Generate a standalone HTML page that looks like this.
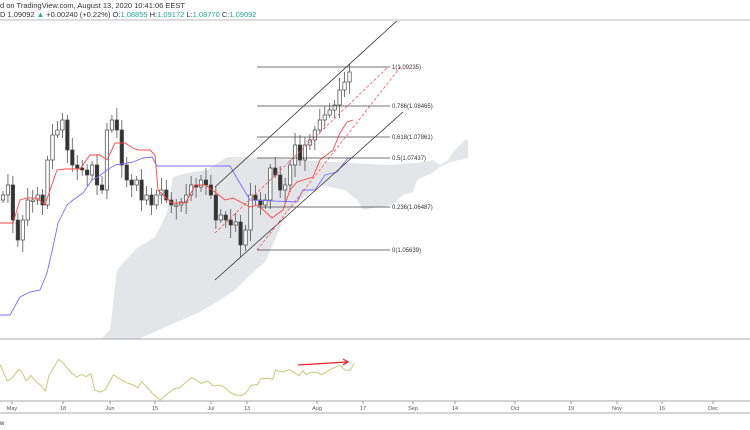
<!DOCTYPE html>
<html><head><meta charset="utf-8"><style>
html,body{margin:0;padding:0;background:#fff;}
svg{display:block;font-family:"Liberation Sans",sans-serif;}
</style></head><body>
<svg id="s" width="750" height="430" viewBox="0 0 750 430" xmlns="http://www.w3.org/2000/svg">
<defs><clipPath id="c"><rect x="0" y="21" width="750" height="318"/></clipPath></defs>
<text x="0" y="8" font-size="7.5" fill="#333">d on TradingView.com, August 13, 2020 10:41:06 EEST</text>
<text x="0" y="17" font-size="7.5" fill="#333">D 1.09092 <tspan fill="#26a69a">▲</tspan> +0.00240 (+0.22%) O:<tspan fill="#26a69a">1.08855</tspan> H:<tspan fill="#26a69a">1.09172</tspan> L:<tspan fill="#26a69a">1.08770</tspan> C:<tspan fill="#26a69a">1.09092</tspan></text>
<line x1="0" y1="20" x2="750" y2="20" stroke="#bbb" stroke-width="1"/>
<g clip-path="url(#c)">
<polygon fill="#e4e5e8" points="95,345 110,330 117,270 137,248 155,237 167,213 173,177 187,173 207,170 227,157 240,157 300,160 350,163 387,165 417,163 433,160 440,165 448,160 453,152 465,140 468,140 468,158 450,162 438,168 432,173 417,180 413,192 403,195 392,205 373,208 363,210 357,200 345,190 320,185 300,200 285,215 275,240 265,262 250,275 235,290 220,300 200,312 170,325 125,345"/>
<g id="cd"></g>
<polyline fill="none" stroke="#ff4444" stroke-width="0.9" points="0,223 13,223 20,200 27,198 37,198 45,205 50,190 57,170 65,169 80,169 90,155 100,155 107,160 115,143 125,143 133,148 138,150 150,150 155,155 158,190 163,195 172,203 185,203 190,195 195,185 205,185 215,192 225,200 233,198 250,207 258,205 272,218 283,210 290,190 297,182 313,177 320,160 333,150 340,133 347,122 353,120"/>
<polyline fill="none" stroke="#7b6cff" stroke-width="0.9" points="0,315 10,315 20,297 30,292 40,290 47,273 53,247 58,223 67,205 73,200 83,193 92,180 98,177 107,170 115,165 133,162 143,158 152,157 157,166 230,166 238,180 250,200 297,202 303,190 315,190 325,175 337,172 348,158 353,158"/>
<line x1="215" y1="187" x2="400" y2="18" stroke="#333" stroke-width="0.8"/>
<line x1="215" y1="280" x2="403" y2="112" stroke="#333" stroke-width="0.8"/>
<line x1="257" y1="250" x2="402" y2="65" stroke="#ff5555" stroke-width="0.8" stroke-dasharray="3,2"/>
<line x1="215" y1="233" x2="387" y2="68" stroke="#ff5555" stroke-width="0.8" stroke-dasharray="3,2"/>
<g stroke="#444" stroke-width="0.8">
<line x1="257" y1="67" x2="390" y2="67"/><line x1="257" y1="106" x2="390" y2="106"/>
<line x1="257" y1="137" x2="390" y2="137"/><line x1="257" y1="158" x2="390" y2="158"/>
<line x1="257" y1="207" x2="390" y2="207"/><line x1="257" y1="250" x2="390" y2="250"/>
</g>
<g font-size="6" fill="#333">
<text x="392" y="69">1(1.09235)</text><text x="392" y="108">0.786(1.08465)</text>
<text x="392" y="139">0.618(1.07861)</text><text x="392" y="160">0.5(1.07437)</text>
<text x="392" y="209">0.236(1.06487)</text><text x="392" y="252">0(1.05639)</text>
</g>
</g>
<line x1="0" y1="339" x2="750" y2="339" stroke="#aaa" stroke-width="1"/>
<polyline id="osc" fill="none" stroke="#c8c87a" stroke-width="1"/>
<line x1="298" y1="365" x2="347" y2="362" stroke="#e22" stroke-width="1.2"/>
<polyline points="343,359 348,362 343,365" fill="none" stroke="#e22" stroke-width="1.2"/>
<line x1="0" y1="401" x2="750" y2="401" stroke="#aaa" stroke-width="1"/>
<g id="ax" font-size="5.5" fill="#555" text-anchor="middle"></g>
<line x1="0" y1="413" x2="750" y2="413" stroke="#aaa" stroke-width="1"/>
<text x="0" y="425" font-size="6" fill="#333">w</text>
</svg>
<script>
(function(){
var NS="http://www.w3.org/2000/svg";
var cl=[195,185,220,240,220,200,200,195,205,160,135,130,120,150,165,168,170,175,165,185,190,130,120,130,165,180,185,180,200,195,205,195,190,200,205,205,202,195,185,187,180,185,195,220,215,220,225,222,245,230,195,200,205,200,168,175,190,185,165,145,160,145,140,130,120,115,110,105,90,82,72];
var g=document.getElementById("cd");var prev=200;
for(var i=0;i<cl.length;i++){var x=3+i*4.95,o=prev,c=cl[i];var t0=Math.min(o,c),b0=Math.max(o,c);if(b0-t0<1.5)b0=t0+1.5;
var w=document.createElementNS(NS,"line");w.setAttribute("x1",x);w.setAttribute("x2",x);w.setAttribute("y1",t0-4-(i*7%9));w.setAttribute("y2",b0+3+(i*5%11));w.setAttribute("stroke","#555");w.setAttribute("stroke-width","0.8");g.appendChild(w);
var r=document.createElementNS(NS,"rect");r.setAttribute("x",x-1.7);r.setAttribute("y",t0);r.setAttribute("width",3.4);r.setAttribute("height",b0-t0);r.setAttribute("fill",c>o?"#333":"#fff");r.setAttribute("stroke","#444");r.setAttribute("stroke-width","0.7");g.appendChild(r);prev=c;}
var p=[[0,100],[15,148],[25,140],[38,115],[45,120],[55,147],[65,132],[75,150],[85,160],[95,177],[102,133],[112,110],[122,85],[130,92],[140,110],[150,125],[160,137],[170,129],[180,135],[190,127],[198,175],[210,180],[220,173],[237,130],[250,142],[265,153],[280,160],[288,168],[296,150],[305,163],[318,183],[335,203],[350,185],[365,170],[375,168],[390,150],[400,138],[410,145],[420,155],[435,148],[445,162],[460,160],[470,167],[480,180],[490,188],[505,190],[515,180],[525,160],[538,158],[545,142],[558,140],[570,143],[576,116],[590,122],[605,115],[620,128],[625,133],[633,118],[640,130],[650,122],[663,123],[672,130],[690,115],[705,105],[712,103],[722,117],[732,117],[740,97]];
document.getElementById("osc").setAttribute("points",p.map(function(a){return (a[0]/2.09).toFixed(1)+","+(330+a[1]/2.9).toFixed(1)}).join(" "));
var ax=document.getElementById("ax");
[[12,"May"],[63,"18"],[110,"Jun"],[155,"15"],[211,"Jul"],[247,"13"],[317,"Aug"],[363,"17"],[413,"Sep"],[455,"14"],[515,"Oct"],[571,"19"],[617,"Nov"],[662,"16"],[713,"Dec"]].forEach(function(a){
var t=document.createElementNS(NS,"text");t.setAttribute("x",a[0]);t.setAttribute("y",410);t.textContent=a[1];ax.appendChild(t);
var l=document.createElementNS(NS,"line");l.setAttribute("x1",a[0]);l.setAttribute("x2",a[0]);l.setAttribute("y1",401);l.setAttribute("y2",404);l.setAttribute("stroke","#999");ax.appendChild(l);});
})();
</script>
</body></html>
